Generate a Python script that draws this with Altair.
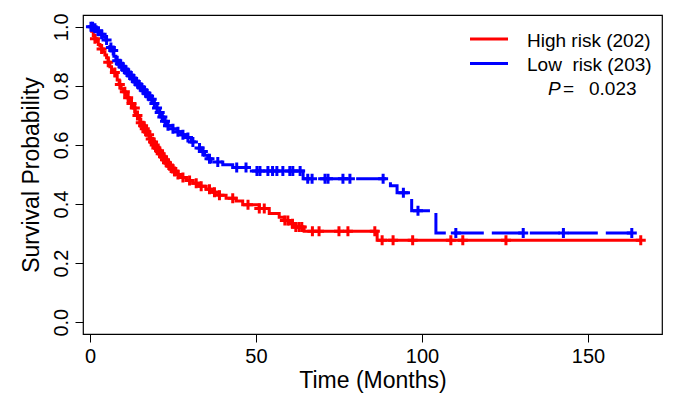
import altair as alt
import pandas as pd

# ---- data (months, survival probability) ----
red_t = [0, 0.5, 1.0, 1.5, 2.0, 2.5, 3.0, 3.5, 4.0, 4.5, 5.0, 5.5, 6.0, 6.5, 7.0, 7.6, 8.2, 8.8, 9.4,
         10.0, 10.6, 11.2, 11.8, 12.4, 13.0, 13.6, 14.2, 14.6, 15.0, 15.6, 16.2, 16.8, 17.4, 18.0,
         18.6, 19.2, 19.8, 20.4, 21.0, 21.6, 22.2, 22.8, 23.6, 24.4, 25.2, 26.2, 27.4, 29.0, 31.0,
         33.0, 35.0, 37.0, 39.0, 41.0, 44.0, 46.0, 51.0, 54.0, 57.0, 58.5, 60.0, 61.5, 64.5, 86.5]
red_s = [1.0, 0.985, 0.97, 0.96, 0.95, 0.94, 0.935, 0.925, 0.915, 0.905, 0.895, 0.88, 0.865, 0.855,
         0.845, 0.835, 0.82, 0.805, 0.79, 0.78, 0.77, 0.76, 0.75, 0.74, 0.725, 0.71, 0.70, 0.69,
         0.675, 0.665, 0.655, 0.645, 0.635, 0.62, 0.61, 0.60, 0.59, 0.58, 0.57, 0.56, 0.55, 0.54,
         0.53, 0.52, 0.51, 0.50, 0.49, 0.48, 0.47, 0.46, 0.45, 0.44, 0.43, 0.42, 0.41, 0.398,
         0.385, 0.368, 0.355, 0.344, 0.333, 0.322, 0.308, 0.277]
red_end = 165.9
red_c = [1.5, 3.5, 5.5, 7.5, 9.0, 10.5, 11.5, 12.5, 13.5, 14.3, 15.3, 16.0, 16.5, 17.0, 17.8, 18.3,
         19.0, 19.5, 20.0, 20.8, 21.3, 22.0, 22.6, 23.2, 24.0, 24.8, 25.5, 26.5, 28.0, 30.0, 32.0,
         33.5, 36.0, 37.5, 39.0, 43.0, 47.6, 51.0, 52.5, 58.7, 59.6, 61.0, 62.0, 63.0, 63.8, 67.0,
         69.0, 75.0, 77.7, 85.8, 88.0, 91.3, 97.2, 108.7, 112.3, 125.3, 165.9]

blue_t = [0, 1.2, 2.0, 3.0, 4.0, 4.8, 5.4, 6.0, 6.6, 7.2, 7.8, 8.6, 9.4, 10.2, 11.0, 11.8, 12.6,
          13.4, 14.2, 15.0, 15.8, 16.6, 17.4, 18.2, 19.0, 19.8, 20.6, 21.4, 22.2, 23.0, 24.5, 26.0,
          27.5, 29.0, 30.5, 31.5, 32.5, 33.5, 34.5, 35.5, 36.5, 40.0, 43.0, 48.0, 64.2, 90.5, 92.5,
          96.9, 104.2]
blue_s = [1.0, 0.995, 0.985, 0.975, 0.965, 0.955, 0.945, 0.93, 0.92, 0.90, 0.885, 0.875, 0.865,
          0.855, 0.845, 0.835, 0.825, 0.815, 0.805, 0.795, 0.785, 0.775, 0.765, 0.755, 0.74, 0.725,
          0.71, 0.695, 0.68, 0.665, 0.655, 0.645, 0.635, 0.625, 0.61, 0.60, 0.59, 0.578, 0.565,
          0.553, 0.542, 0.533, 0.524, 0.512, 0.486, 0.462, 0.438, 0.377, 0.302]
blue_end = 163.2
blue_c = [0.3, 0.8, 1.5, 2.5, 3.5, 5.0, 6.3, 7.0, 8.2, 9.0, 9.8, 10.6, 11.4, 12.2, 13.0, 13.8,
          14.6, 15.4, 16.2, 17.0, 17.8, 18.6, 19.4, 20.2, 21.0, 21.8, 22.6, 23.5, 25.0, 26.5, 28.0,
          29.5, 31.0, 33.0, 34.0, 36.0, 38.5, 44.2, 47.0, 50.3, 51.2, 53.6, 55.0, 56.3, 58.1, 60.2,
          61.1, 63.3, 65.6, 66.9, 70.8, 71.7, 76.2, 78.3, 88.3, 94.4, 98.8, 110.2, 130.5, 142.6,
          163.2]

groups = ["High risk (202)", "Low\u00a0 risk (203)"]
colors = ["#FF0000", "#0000FF"]
x_ticks = [0, 50, 100, 150]
y_ticks = [0.0, 0.2, 0.4, 0.6, 0.8, 1.0]
p_value = "0.023"

FONT = "Liberation Sans"


def surv_at(ts, ss, t):
    v = ss[0]
    for ti, si in zip(ts, ss):
        if ti <= t:
            v = si
    return v


def line_df(ts, ss, end, g):
    rows = [dict(t=t, s=s, g=g) for t, s in zip(ts, ss)]
    rows.append(dict(t=end, s=ss[-1], g=g))
    return pd.DataFrame(rows)


def cens_df(ts, ss, cs, g):
    return pd.DataFrame([dict(t=c, s=surv_at(ts, ss, c), g=g) for c in cs])


xs = alt.Scale(domain=[-2.1, 172.3], nice=False, zero=False)
ys = alt.Scale(domain=[-0.04, 1.04], nice=False, zero=False)

common_axis = dict(grid=False, domain=False, tickColor="black", tickSize=8, tickWidth=1,
                   labelColor="black", titleColor="black", labelFont=FONT, titleFont=FONT,
                   titleFontWeight="normal", labelFontSize=20, titleFontSize=23, labelPadding=4)

xenc = alt.X("t:Q", scale=xs, axis=alt.Axis(values=x_ticks, title="Time (Months)",
                                            titlePadding=3, **common_axis))
yenc = alt.Y("s:Q", scale=ys, axis=alt.Axis(values=y_ticks, format=".1f", title="Survival Probability",
                                            labelAngle=270, labelAlign="center", labelBaseline="bottom",
                                            titlePadding=8, **common_axis))

red_line = alt.Chart(line_df(red_t, red_s, red_end, groups[0])).mark_line(
    interpolate="step-after", color=colors[0], strokeWidth=3).encode(x=xenc, y=yenc)
blue_line = alt.Chart(line_df(blue_t, blue_s, blue_end, groups[1])).mark_line(
    interpolate="step-after", color=colors[1], strokeWidth=3, strokeDash=[30, 8]).encode(x=xenc, y=yenc)

cross = "M-1,0L1,0M0,-1L0,1"
red_cens = alt.Chart(cens_df(red_t, red_s, red_c, groups[0])).mark_point(
    shape=cross, filled=False, size=100, strokeWidth=3, color=colors[0], opacity=1).encode(x=xenc, y=yenc)
blue_cens = alt.Chart(cens_df(blue_t, blue_s, blue_c, groups[1])).mark_point(
    shape=cross, filled=False, size=100, strokeWidth=3, color=colors[1], opacity=1).encode(x=xenc, y=yenc)

# legend (drawn in pixel space of the plot area)
leg = []
one = pd.DataFrame({"a": [0]})
for i, (lab, col) in enumerate(zip(groups, colors)):
    yy = 24 + i * 24.5
    leg.append(alt.Chart(one).mark_rule(color=col, strokeWidth=3).encode(
        x=alt.value(387), x2=alt.value(425), y=alt.value(yy)))
    leg.append(alt.Chart(one).mark_text(
        text=lab, font=FONT, fontSize=19, align="left", baseline="middle", color="black").encode(
        x=alt.value(444), y=alt.value(yy + 1.5)))
leg.append(alt.Chart(one).mark_text(
    text="P", font=FONT, fontSize=19, fontStyle="italic", align="left", baseline="middle",
    color="black").encode(x=alt.value(465), y=alt.value(74)))
leg.append(alt.Chart(one).mark_text(
    text="=", font=FONT, fontSize=19, align="left", baseline="middle", color="black").encode(
    x=alt.value(480), y=alt.value(74)))
leg.append(alt.Chart(one).mark_text(
    text=p_value, font=FONT, fontSize=19, align="left", baseline="middle", color="black").encode(
    x=alt.value(506), y=alt.value(74)))

chart = alt.layer(red_line, blue_line, red_cens, blue_cens, *leg).properties(
    width=579, height=319,
    background="white",
    autosize=alt.AutoSizeParams(type="none"),
    padding={"left": 75, "top": 7, "right": 5, "bottom": 60},
).configure_view(stroke="black", strokeWidth=1.2)

chart.save("out.html", embed_options={"renderer": "svg", "actions": False})
